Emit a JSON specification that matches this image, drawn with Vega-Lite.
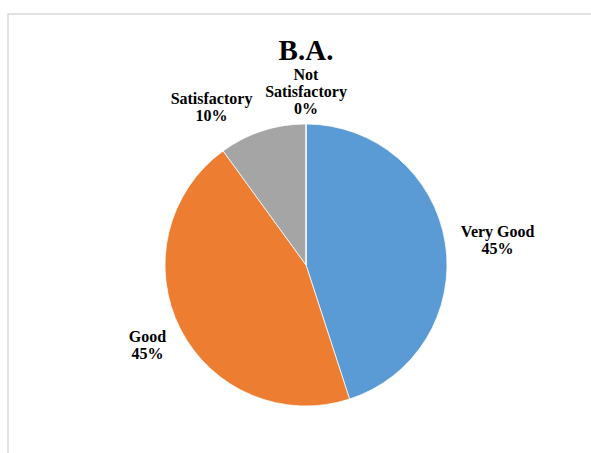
{
  "$schema": "https://vega.github.io/schema/vega-lite/v6.json",
  "autosize": "none",
  "padding": {"left": 8, "top": 14, "right": 0, "bottom": 0},
  "width": 596,
  "height": 502,
  "background": "white",
  "view": {"stroke": "#d9d9d9", "strokeWidth": 1.5},
  "title": {
    "text": "B.A.",
    "font": "Liberation Serif",
    "fontSize": 29,
    "fontWeight": "bold",
    "color": "#000000",
    "anchor": "middle",
    "frame": "group",
    "offset": -52
  },
  "data": {
    "values": [
      {"category": "Very Good", "value": 45, "label": "Very Good\n45%", "rank": 1},
      {"category": "Good", "value": 45, "label": "Good\n45%", "rank": 2},
      {"category": "Satisfactory", "value": 10, "label": "Satisfactory\n10%", "rank": 3},
      {"category": "Not Satisfactory", "value": 0, "label": "Not\nSatisfactory\n0%", "rank": 4}
    ]
  },
  "encoding": {
    "theta": {"field": "value", "type": "quantitative", "stack": true},
    "order": {"field": "rank", "type": "quantitative"}
  },
  "layer": [
    {
      "mark": {"type": "arc", "outerRadius": 141, "stroke": "white", "strokeWidth": 0.75},
      "encoding": {
        "color": {
          "field": "category",
          "type": "nominal",
          "scale": {
            "domain": ["Very Good", "Good", "Satisfactory", "Not Satisfactory"],
            "range": ["#5B9BD5", "#ED7D31", "#A5A5A5", "#FFC000"]
          },
          "legend": null
        }
      }
    },
    {
      "mark": {
        "type": "text",
        "radius": 194,
        "dy": -3,
        "font": "Liberation Serif",
        "fontWeight": "bold",
        "fontSize": 16,
        "lineHeight": 17,
        "lineBreak": "\n",
        "align": "center",
        "baseline": "middle",
        "color": "#000000"
      },
      "encoding": {
        "text": {
          "condition": {"test": "datum.category === 'Very Good'", "field": "label"},
          "value": ""
        }
      }
    },
    {
      "mark": {
        "type": "text",
        "radius": 190,
        "dy": 0,
        "font": "Liberation Serif",
        "fontWeight": "bold",
        "fontSize": 16,
        "lineHeight": 17,
        "lineBreak": "\n",
        "align": "center",
        "baseline": "middle",
        "color": "#000000"
      },
      "encoding": {
        "text": {
          "condition": {"test": "datum.category === 'Not Satisfactory'", "field": "label"},
          "value": ""
        }
      }
    },
    {
      "mark": {
        "type": "text",
        "radius": 178,
        "dy": -9,
        "font": "Liberation Serif",
        "fontWeight": "bold",
        "fontSize": 16,
        "lineHeight": 17,
        "lineBreak": "\n",
        "align": "center",
        "baseline": "middle",
        "color": "#000000"
      },
      "encoding": {
        "text": {
          "condition": {"test": "datum.category === 'Good'", "field": "label"},
          "value": ""
        }
      }
    },
    {
      "mark": {
        "type": "text",
        "radius": 186,
        "dx": -37,
        "dy": 11,
        "font": "Liberation Serif",
        "fontWeight": "bold",
        "fontSize": 16,
        "lineHeight": 17,
        "lineBreak": "\n",
        "align": "center",
        "baseline": "middle",
        "color": "#000000"
      },
      "encoding": {
        "text": {
          "condition": {"test": "datum.category === 'Satisfactory'", "field": "label"},
          "value": ""
        }
      }
    }
  ]
}
